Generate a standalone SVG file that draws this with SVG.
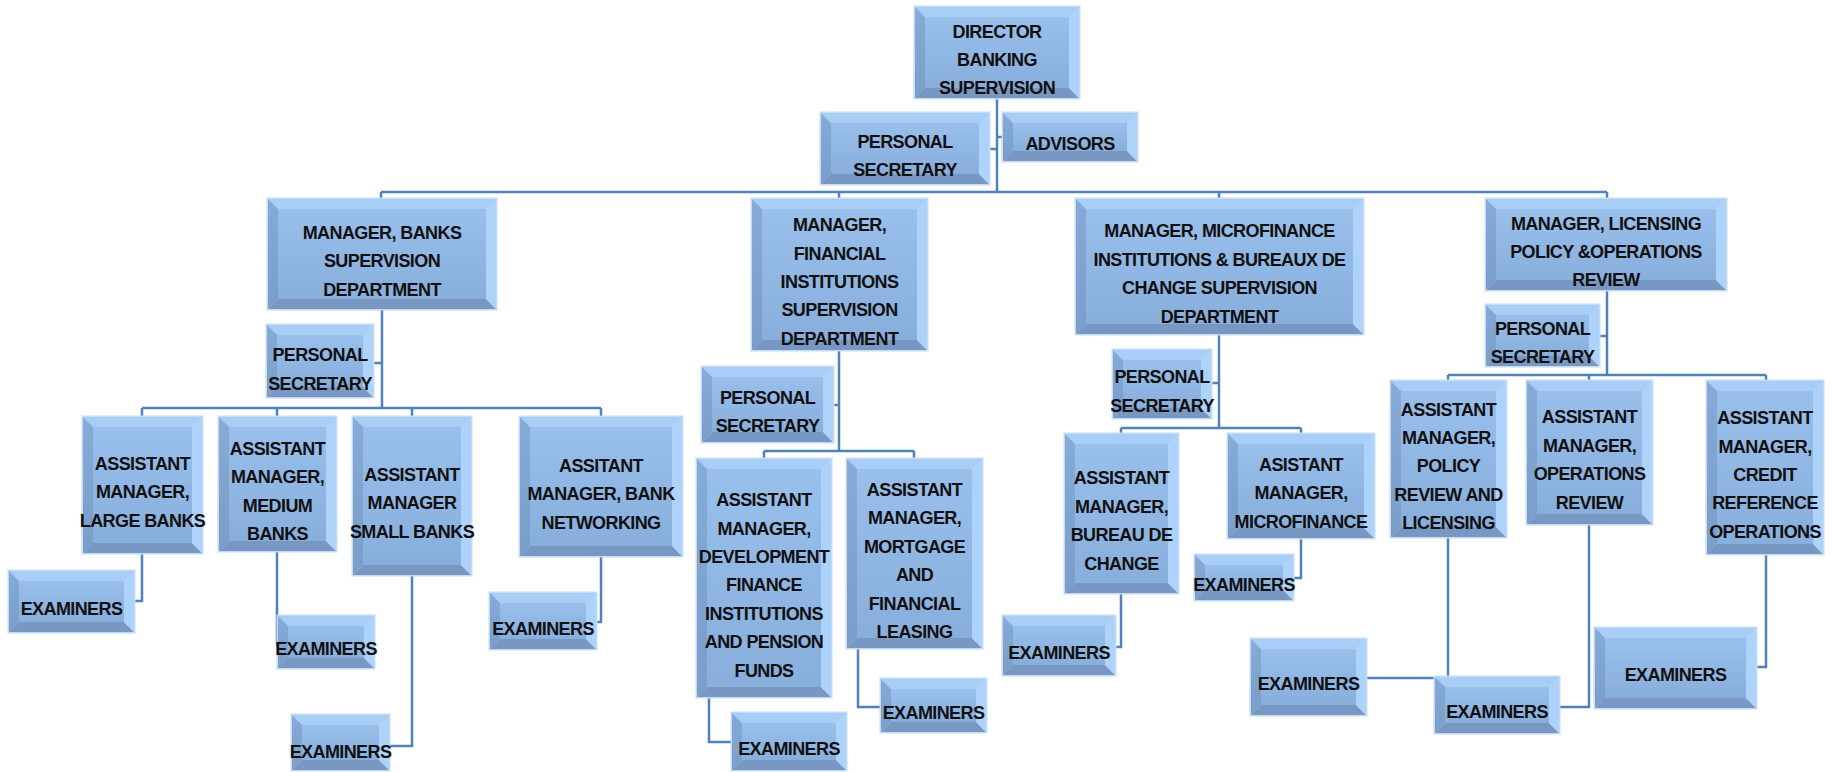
<svg xmlns="http://www.w3.org/2000/svg" width="1836" height="772" viewBox="0 0 1836 772">
  <defs>
    <linearGradient id="gFace" x1="0" y1="0" x2="0" y2="1">
      <stop offset="0" stop-color="#99BFEB"/>
      <stop offset="1" stop-color="#88AEDC"/>
    </linearGradient>
    <linearGradient id="gLeft" x1="0" y1="0" x2="0" y2="1">
      <stop offset="0" stop-color="#86ABD8"/>
      <stop offset="1" stop-color="#7A9DC9"/>
    </linearGradient>
    <style>
      .rim { fill: #BCD5EF; stroke: #C4DBF2; stroke-width: 3; }
      .bt { fill: #A8CDF6; }
      .bl { fill: url(#gLeft); }
      .bb { fill: #7897C2; }
      .br { fill: #ADD3FA; }
      .face { fill: url(#gFace); }
      .lbl { font-family: "Liberation Sans", Arial, sans-serif; font-weight: bold; font-size: 18px; letter-spacing: -0.6px; fill: #101010; text-anchor: middle; }
      #connectors path { fill: none; stroke: #4F81BD; stroke-width: 2.5; stroke-linejoin: miter; }
    </style>
  </defs>
  <rect width="1836" height="772" fill="#FFFFFF"/>

  <!-- reporting lines -->
  <g id="connectors">
    <path d="M997 98V192"/>
    <path d="M997 137H1003"/>
    <path d="M989 149H997"/>
    <path d="M381 192H1607"/>
    <path d="M381 192V199M839 192V199M1219 192V199M1607 192V199"/>
    <!-- banks supervision -->
    <path d="M382 309V408"/>
    <path d="M373 363H382"/>
    <path d="M142 408H601"/>
    <path d="M142 408V417M277 408V417M412 408V417M601 408V417"/>
    <path d="M142 553V601H134"/>
    <path d="M277 551V645H279"/>
    <path d="M412 575V746H389"/>
    <path d="M601 556V622H596"/>
    <!-- financial institutions -->
    <path d="M839 350V451"/>
    <path d="M833 405H839"/>
    <path d="M764 451H914"/>
    <path d="M764 451V459M914 451V459"/>
    <path d="M709 697V742H732"/>
    <path d="M858 648V707H881"/>
    <!-- microfinance and bureaux de change -->
    <path d="M1219 334V428"/>
    <path d="M1211 383H1219"/>
    <path d="M1121 428H1301"/>
    <path d="M1121 428V434M1301 428V434"/>
    <path d="M1121 593V647H1115"/>
    <path d="M1301 538V578H1293"/>
    <!-- licensing, policy and operations -->
    <path d="M1607 290V375"/>
    <path d="M1599 336H1607"/>
    <path d="M1448 375H1766"/>
    <path d="M1448 375V381M1589 375V381M1766 375V381"/>
    <path d="M1448 537V678H1366"/>
    <path d="M1589 524V707H1559"/>
    <path d="M1766 554V667H1756"/>
  </g>

  <g id="director" transform="translate(915,7)">
    <rect class="rim" width="164" height="91"/>
    <path class="bt" d="M0 0H164L154 10H10Z"/><path class="bl" d="M0 0L10 10V81L0 91Z"/><path class="bb" d="M0 91L10 81H154L164 91Z"/><path class="br" d="M164 0V91L154 81V10Z"/>
    <rect class="face" x="10" y="10" width="144" height="71"/>
    <text class="lbl" x="82" y="30.5"><tspan x="82">DIRECTOR</tspan><tspan x="82" dy="28.4">BANKING</tspan><tspan x="82" dy="28.4">SUPERVISION</tspan></text>
  </g>

  <g id="ps-director" transform="translate(821,113)">
    <rect class="rim" width="168" height="71"/>
    <path class="bt" d="M0 0H168L158 10H10Z"/><path class="bl" d="M0 0L10 10V61L0 71Z"/><path class="bb" d="M0 71L10 61H158L168 71Z"/><path class="br" d="M168 0V71L158 61V10Z"/>
    <rect class="face" x="10" y="10" width="148" height="51"/>
    <text class="lbl" x="84" y="34.7"><tspan x="84">PERSONAL</tspan><tspan x="84" dy="28.4">SECRETARY</tspan></text>
  </g>

  <g id="advisors" transform="translate(1003,113)">
    <rect class="rim" width="134" height="48"/>
    <path class="bt" d="M0 0H134L124 10H10Z"/><path class="bl" d="M0 0L10 10V38L0 48Z"/><path class="bb" d="M0 48L10 38H124L134 48Z"/><path class="br" d="M134 0V48L124 38V10Z"/>
    <rect class="face" x="10" y="10" width="114" height="28"/>
    <text class="lbl" x="67" y="37.4">ADVISORS</text>
  </g>

  <g id="mgr-banks" transform="translate(268,199)">
    <rect class="rim" width="228" height="110"/>
    <path class="bt" d="M0 0H228L218 10H10Z"/><path class="bl" d="M0 0L10 10V100L0 110Z"/><path class="bb" d="M0 110L10 100H218L228 110Z"/><path class="br" d="M228 0V110L218 100V10Z"/>
    <rect class="face" x="10" y="10" width="208" height="90"/>
    <text class="lbl" x="114" y="40"><tspan x="114">MANAGER, BANKS</tspan><tspan x="114" dy="28.4">SUPERVISION</tspan><tspan x="114" dy="28.4">DEPARTMENT</tspan></text>
  </g>

  <g id="mgr-fi" transform="translate(752,199)">
    <rect class="rim" width="175" height="151"/>
    <path class="bt" d="M0 0H175L165 10H10Z"/><path class="bl" d="M0 0L10 10V141L0 151Z"/><path class="bb" d="M0 151L10 141H165L175 151Z"/><path class="br" d="M175 0V151L165 141V10Z"/>
    <rect class="face" x="10" y="10" width="155" height="131"/>
    <text class="lbl" x="87.5" y="32.1"><tspan x="87.5">MANAGER,</tspan><tspan x="87.5" dy="28.4">FINANCIAL</tspan><tspan x="87.5" dy="28.4">INSTITUTIONS</tspan><tspan x="87.5" dy="28.4">SUPERVISION</tspan><tspan x="87.5" dy="28.4">DEPARTMENT</tspan></text>
  </g>

  <g id="mgr-mfi" transform="translate(1076,199)">
    <rect class="rim" width="287" height="135"/>
    <path class="bt" d="M0 0H287L277 10H10Z"/><path class="bl" d="M0 0L10 10V125L0 135Z"/><path class="bb" d="M0 135L10 125H277L287 135Z"/><path class="br" d="M287 0V135L277 125V10Z"/>
    <rect class="face" x="10" y="10" width="267" height="115"/>
    <text class="lbl" x="143.5" y="38.3"><tspan x="143.5">MANAGER, MICROFINANCE</tspan><tspan x="143.5" dy="28.4">INSTITUTIONS &amp; BUREAUX DE</tspan><tspan x="143.5" dy="28.4">CHANGE SUPERVISION</tspan><tspan x="143.5" dy="28.4">DEPARTMENT</tspan></text>
  </g>

  <g id="mgr-licensing" transform="translate(1486,199)">
    <rect class="rim" width="240" height="91"/>
    <path class="bt" d="M0 0H240L230 10H10Z"/><path class="bl" d="M0 0L10 10V81L0 91Z"/><path class="bb" d="M0 91L10 81H230L240 91Z"/><path class="br" d="M240 0V91L230 81V10Z"/>
    <rect class="face" x="10" y="10" width="220" height="71"/>
    <text class="lbl" x="120" y="30.5"><tspan x="120">MANAGER, LICENSING</tspan><tspan x="120" dy="28.4">POLICY &amp;OPERATIONS</tspan><tspan x="120" dy="28.4">REVIEW</tspan></text>
  </g>

  <g id="ps-banks" transform="translate(267,325)">
    <rect class="rim" width="106" height="72"/>
    <path class="bt" d="M0 0H106L96 10H10Z"/><path class="bl" d="M0 0L10 10V62L0 72Z"/><path class="bb" d="M0 72L10 62H96L106 72Z"/><path class="br" d="M106 0V72L96 62V10Z"/>
    <rect class="face" x="10" y="10" width="86" height="52"/>
    <text class="lbl" x="53" y="36.4"><tspan x="53">PERSONAL</tspan><tspan x="53" dy="28.4">SECRETARY</tspan></text>
  </g>

  <g id="am-large-banks" transform="translate(83,417)">
    <rect class="rim" width="119" height="136"/>
    <path class="bt" d="M0 0H119L109 10H10Z"/><path class="bl" d="M0 0L10 10V126L0 136Z"/><path class="bb" d="M0 136L10 126H109L119 136Z"/><path class="br" d="M119 0V136L109 126V10Z"/>
    <rect class="face" x="10" y="10" width="99" height="116"/>
    <text class="lbl" x="59.5" y="53"><tspan x="59.5">ASSISTANT</tspan><tspan x="59.5" dy="28.4">MANAGER,</tspan><tspan x="59.5" dy="28.4">LARGE BANKS</tspan></text>
  </g>

  <g id="am-medium-banks" transform="translate(219,417)">
    <rect class="rim" width="117" height="134"/>
    <path class="bt" d="M0 0H117L107 10H10Z"/><path class="bl" d="M0 0L10 10V124L0 134Z"/><path class="bb" d="M0 134L10 124H107L117 134Z"/><path class="br" d="M117 0V134L107 124V10Z"/>
    <rect class="face" x="10" y="10" width="97" height="114"/>
    <text class="lbl" x="58.5" y="37.8"><tspan x="58.5">ASSISTANT</tspan><tspan x="58.5" dy="28.4">MANAGER,</tspan><tspan x="58.5" dy="28.4">MEDIUM</tspan><tspan x="58.5" dy="28.4">BANKS</tspan></text>
  </g>

  <g id="am-small-banks" transform="translate(353,417)">
    <rect class="rim" width="118" height="158"/>
    <path class="bt" d="M0 0H118L108 10H10Z"/><path class="bl" d="M0 0L10 10V148L0 158Z"/><path class="bb" d="M0 158L10 148H108L118 158Z"/><path class="br" d="M118 0V158L108 148V10Z"/>
    <rect class="face" x="10" y="10" width="98" height="138"/>
    <text class="lbl" x="59" y="64"><tspan x="59">ASSISTANT</tspan><tspan x="59" dy="28.4">MANAGER</tspan><tspan x="59" dy="28.4">SMALL BANKS</tspan></text>
  </g>

  <g id="am-bank-networking" transform="translate(520,417)">
    <rect class="rim" width="162" height="139"/>
    <path class="bt" d="M0 0H162L152 10H10Z"/><path class="bl" d="M0 0L10 10V129L0 139Z"/><path class="bb" d="M0 139L10 129H152L162 139Z"/><path class="br" d="M162 0V139L152 129V10Z"/>
    <rect class="face" x="10" y="10" width="142" height="119"/>
    <text class="lbl" x="81" y="55"><tspan x="81">ASSITANT</tspan><tspan x="81" dy="28.4">MANAGER, BANK</tspan><tspan x="81" dy="28.4">NETWORKING</tspan></text>
  </g>

  <g id="ex-large-banks" transform="translate(9,571)">
    <rect class="rim" width="125" height="61"/>
    <path class="bt" d="M0 0H125L115 10H10Z"/><path class="bl" d="M0 0L10 10V51L0 61Z"/><path class="bb" d="M0 61L10 51H115L125 61Z"/><path class="br" d="M125 0V61L115 51V10Z"/>
    <rect class="face" x="10" y="10" width="105" height="41"/>
    <text class="lbl" x="62.5" y="43.9">EXAMINERS</text>
  </g>

  <g id="ex-medium-banks" transform="translate(278,616)">
    <rect class="rim" width="96" height="52"/>
    <path class="bt" d="M0 0H96L86 10H10Z"/><path class="bl" d="M0 0L10 10V42L0 52Z"/><path class="bb" d="M0 52L10 42H86L96 52Z"/><path class="br" d="M96 0V52L86 42V10Z"/>
    <rect class="face" x="10" y="10" width="76" height="32"/>
    <text class="lbl" x="48" y="39.4">EXAMINERS</text>
  </g>

  <g id="ex-small-banks" transform="translate(292,715)">
    <rect class="rim" width="97" height="55"/>
    <path class="bt" d="M0 0H97L87 10H10Z"/><path class="bl" d="M0 0L10 10V45L0 55Z"/><path class="bb" d="M0 55L10 45H87L97 55Z"/><path class="br" d="M97 0V55L87 45V10Z"/>
    <rect class="face" x="10" y="10" width="77" height="35"/>
    <text class="lbl" x="48.5" y="43.4">EXAMINERS</text>
  </g>

  <g id="ex-bank-networking" transform="translate(490,593)">
    <rect class="rim" width="106" height="56"/>
    <path class="bt" d="M0 0H106L96 10H10Z"/><path class="bl" d="M0 0L10 10V46L0 56Z"/><path class="bb" d="M0 56L10 46H96L106 56Z"/><path class="br" d="M106 0V56L96 46V10Z"/>
    <rect class="face" x="10" y="10" width="86" height="36"/>
    <text class="lbl" x="53" y="42.4">EXAMINERS</text>
  </g>

  <g id="ps-fi" transform="translate(702,367)">
    <rect class="rim" width="131" height="75"/>
    <path class="bt" d="M0 0H131L121 10H10Z"/><path class="bl" d="M0 0L10 10V65L0 75Z"/><path class="bb" d="M0 75L10 65H121L131 75Z"/><path class="br" d="M131 0V75L121 65V10Z"/>
    <rect class="face" x="10" y="10" width="111" height="55"/>
    <text class="lbl" x="65.5" y="36.7"><tspan x="65.5">PERSONAL</tspan><tspan x="65.5" dy="28.4">SECRETARY</tspan></text>
  </g>

  <g id="am-development-finance" transform="translate(697,459)">
    <rect class="rim" width="134" height="238"/>
    <path class="bt" d="M0 0H134L124 10H10Z"/><path class="bl" d="M0 0L10 10V228L0 238Z"/><path class="bb" d="M0 238L10 228H124L134 238Z"/><path class="br" d="M134 0V238L124 228V10Z"/>
    <rect class="face" x="10" y="10" width="114" height="218"/>
    <text class="lbl" x="67" y="47.2"><tspan x="67">ASSISTANT</tspan><tspan x="67" dy="28.4">MANAGER,</tspan><tspan x="67" dy="28.4">DEVELOPMENT</tspan><tspan x="67" dy="28.4">FINANCE</tspan><tspan x="67" dy="28.4">INSTITUTIONS</tspan><tspan x="67" dy="28.4">AND PENSION</tspan><tspan x="67" dy="28.4">FUNDS</tspan></text>
  </g>

  <g id="am-mortgage-leasing" transform="translate(847,459)">
    <rect class="rim" width="135" height="189"/>
    <path class="bt" d="M0 0H135L125 10H10Z"/><path class="bl" d="M0 0L10 10V179L0 189Z"/><path class="bb" d="M0 189L10 179H125L135 189Z"/><path class="br" d="M135 0V189L125 179V10Z"/>
    <rect class="face" x="10" y="10" width="115" height="169"/>
    <text class="lbl" x="67.5" y="36.9"><tspan x="67.5">ASSISTANT</tspan><tspan x="67.5" dy="28.4">MANAGER,</tspan><tspan x="67.5" dy="28.4">MORTGAGE</tspan><tspan x="67.5" dy="28.4">AND</tspan><tspan x="67.5" dy="28.4">FINANCIAL</tspan><tspan x="67.5" dy="28.4">LEASING</tspan></text>
  </g>

  <g id="ex-development-finance" transform="translate(732,713)">
    <rect class="rim" width="114" height="57"/>
    <path class="bt" d="M0 0H114L104 10H10Z"/><path class="bl" d="M0 0L10 10V47L0 57Z"/><path class="bb" d="M0 57L10 47H104L114 57Z"/><path class="br" d="M114 0V57L104 47V10Z"/>
    <rect class="face" x="10" y="10" width="94" height="37"/>
    <text class="lbl" x="57" y="41.9">EXAMINERS</text>
  </g>

  <g id="ex-mortgage-leasing" transform="translate(881,679)">
    <rect class="rim" width="105" height="53"/>
    <path class="bt" d="M0 0H105L95 10H10Z"/><path class="bl" d="M0 0L10 10V43L0 53Z"/><path class="bb" d="M0 53L10 43H95L105 53Z"/><path class="br" d="M105 0V53L95 43V10Z"/>
    <rect class="face" x="10" y="10" width="85" height="33"/>
    <text class="lbl" x="52.5" y="39.9">EXAMINERS</text>
  </g>

  <g id="ps-mfi" transform="translate(1113,350)">
    <rect class="rim" width="98" height="68"/>
    <path class="bt" d="M0 0H98L88 10H10Z"/><path class="bl" d="M0 0L10 10V58L0 68Z"/><path class="bb" d="M0 68L10 58H88L98 68Z"/><path class="br" d="M98 0V68L88 58V10Z"/>
    <rect class="face" x="10" y="10" width="78" height="48"/>
    <text class="lbl" x="49" y="33.2"><tspan x="49">PERSONAL</tspan><tspan x="49" dy="28.4">SECRETARY</tspan></text>
  </g>

  <g id="am-bureau-de-change" transform="translate(1065,434)">
    <rect class="rim" width="113" height="159"/>
    <path class="bt" d="M0 0H113L103 10H10Z"/><path class="bl" d="M0 0L10 10V149L0 159Z"/><path class="bb" d="M0 159L10 149H103L113 159Z"/><path class="br" d="M113 0V159L103 149V10Z"/>
    <rect class="face" x="10" y="10" width="93" height="139"/>
    <text class="lbl" x="56.5" y="50.3"><tspan x="56.5">ASSISTANT</tspan><tspan x="56.5" dy="28.4">MANAGER,</tspan><tspan x="56.5" dy="28.4">BUREAU DE</tspan><tspan x="56.5" dy="28.4">CHANGE</tspan></text>
  </g>

  <g id="am-microfinance" transform="translate(1228,434)">
    <rect class="rim" width="146" height="104"/>
    <path class="bt" d="M0 0H146L136 10H10Z"/><path class="bl" d="M0 0L10 10V94L0 104Z"/><path class="bb" d="M0 104L10 94H136L146 104Z"/><path class="br" d="M146 0V104L136 94V10Z"/>
    <rect class="face" x="10" y="10" width="126" height="84"/>
    <text class="lbl" x="73" y="37"><tspan x="73">ASISTANT</tspan><tspan x="73" dy="28.4">MANAGER,</tspan><tspan x="73" dy="28.4">MICROFINANCE</tspan></text>
  </g>

  <g id="ex-bureau-de-change" transform="translate(1003,616)">
    <rect class="rim" width="112" height="59"/>
    <path class="bt" d="M0 0H112L102 10H10Z"/><path class="bl" d="M0 0L10 10V49L0 59Z"/><path class="bb" d="M0 59L10 49H102L112 59Z"/><path class="br" d="M112 0V59L102 49V10Z"/>
    <rect class="face" x="10" y="10" width="92" height="39"/>
    <text class="lbl" x="56" y="42.9">EXAMINERS</text>
  </g>

  <g id="ex-microfinance" transform="translate(1195,555)">
    <rect class="rim" width="98" height="45"/>
    <path class="bt" d="M0 0H98L88 10H10Z"/><path class="bl" d="M0 0L10 10V35L0 45Z"/><path class="bb" d="M0 45L10 35H88L98 45Z"/><path class="br" d="M98 0V45L88 35V10Z"/>
    <rect class="face" x="10" y="10" width="78" height="25"/>
    <text class="lbl" x="49" y="35.9">EXAMINERS</text>
  </g>

  <g id="ps-licensing" transform="translate(1486,305)">
    <rect class="rim" width="113" height="61"/>
    <path class="bt" d="M0 0H113L103 10H10Z"/><path class="bl" d="M0 0L10 10V51L0 61Z"/><path class="bb" d="M0 61L10 51H103L113 61Z"/><path class="br" d="M113 0V61L103 51V10Z"/>
    <rect class="face" x="10" y="10" width="93" height="41"/>
    <text class="lbl" x="56.5" y="29.7"><tspan x="56.5">PERSONAL</tspan><tspan x="56.5" dy="28.4">SECRETARY</tspan></text>
  </g>

  <g id="am-policy-review" transform="translate(1391,381)">
    <rect class="rim" width="115" height="156"/>
    <path class="bt" d="M0 0H115L105 10H10Z"/><path class="bl" d="M0 0L10 10V146L0 156Z"/><path class="bb" d="M0 156L10 146H105L115 156Z"/><path class="br" d="M115 0V156L105 146V10Z"/>
    <rect class="face" x="10" y="10" width="95" height="136"/>
    <text class="lbl" x="57.5" y="34.6"><tspan x="57.5">ASSISTANT</tspan><tspan x="57.5" dy="28.4">MANAGER,</tspan><tspan x="57.5" dy="28.4">POLICY</tspan><tspan x="57.5" dy="28.4">REVIEW AND</tspan><tspan x="57.5" dy="28.4">LICENSING</tspan></text>
  </g>

  <g id="am-operations-review" transform="translate(1527,381)">
    <rect class="rim" width="125" height="143"/>
    <path class="bt" d="M0 0H125L115 10H10Z"/><path class="bl" d="M0 0L10 10V133L0 143Z"/><path class="bb" d="M0 143L10 133H115L125 143Z"/><path class="br" d="M125 0V143L115 133V10Z"/>
    <rect class="face" x="10" y="10" width="105" height="123"/>
    <text class="lbl" x="62.5" y="42.3"><tspan x="62.5">ASSISTANT</tspan><tspan x="62.5" dy="28.4">MANAGER,</tspan><tspan x="62.5" dy="28.4">OPERATIONS</tspan><tspan x="62.5" dy="28.4">REVIEW</tspan></text>
  </g>

  <g id="am-credit-reference" transform="translate(1707,381)">
    <rect class="rim" width="116" height="173"/>
    <path class="bt" d="M0 0H116L106 10H10Z"/><path class="bl" d="M0 0L10 10V163L0 173Z"/><path class="bb" d="M0 173L10 163H106L116 173Z"/><path class="br" d="M116 0V173L106 163V10Z"/>
    <rect class="face" x="10" y="10" width="96" height="153"/>
    <text class="lbl" x="58" y="43.1"><tspan x="58">ASSISTANT</tspan><tspan x="58" dy="28.4">MANAGER,</tspan><tspan x="58" dy="28.4">CREDIT</tspan><tspan x="58" dy="28.4">REFERENCE</tspan><tspan x="58" dy="28.4">OPERATIONS</tspan></text>
  </g>

  <g id="ex-policy-review" transform="translate(1251,639)">
    <rect class="rim" width="115" height="76"/>
    <path class="bt" d="M0 0H115L105 10H10Z"/><path class="bl" d="M0 0L10 10V66L0 76Z"/><path class="bb" d="M0 76L10 66H105L115 76Z"/><path class="br" d="M115 0V76L105 66V10Z"/>
    <rect class="face" x="10" y="10" width="95" height="56"/>
    <text class="lbl" x="57.5" y="51.4">EXAMINERS</text>
  </g>

  <g id="ex-operations-review" transform="translate(1435,677)">
    <rect class="rim" width="124" height="56"/>
    <path class="bt" d="M0 0H124L114 10H10Z"/><path class="bl" d="M0 0L10 10V46L0 56Z"/><path class="bb" d="M0 56L10 46H114L124 56Z"/><path class="br" d="M124 0V56L114 46V10Z"/>
    <rect class="face" x="10" y="10" width="104" height="36"/>
    <text class="lbl" x="62" y="41.4">EXAMINERS</text>
  </g>

  <g id="ex-credit-reference" transform="translate(1595,628)">
    <rect class="rim" width="161" height="80"/>
    <path class="bt" d="M0 0H161L151 10H10Z"/><path class="bl" d="M0 0L10 10V70L0 80Z"/><path class="bb" d="M0 80L10 70H151L161 80Z"/><path class="br" d="M161 0V80L151 70V10Z"/>
    <rect class="face" x="10" y="10" width="141" height="60"/>
    <text class="lbl" x="80.5" y="53.4">EXAMINERS</text>
  </g>
</svg>
